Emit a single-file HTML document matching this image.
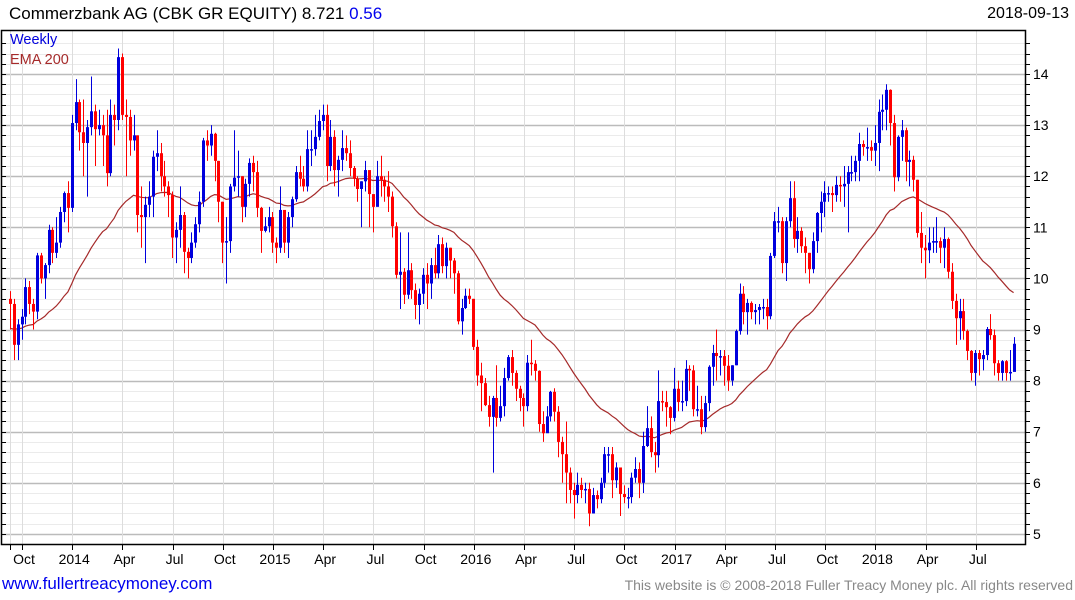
<!DOCTYPE html>
<html><head><meta charset="utf-8"><style>
html,body{margin:0;padding:0;background:#fff;}
body{width:1075px;height:600px;overflow:hidden;position:relative;font-family:"Liberation Sans","DejaVu Sans",sans-serif;}
.t{position:absolute;white-space:nowrap;}
</style></head><body>
<div class="t" style="left:9px;top:4px;font-size:17px;color:#000;">Commerzbank AG (CBK GR EQUITY) 8.721 <span style="color:#0000ee">0.56</span></div>
<div class="t" style="right:6px;top:5px;font-size:16px;color:#000;">2018-09-13</div>
<svg id="chart" width="1075" height="600" style="position:absolute;left:0;top:0" xmlns="http://www.w3.org/2000/svg"></svg>
<div class="t" style="left:10px;top:32px;font-size:14.5px;color:#0000dd;">Weekly</div>
<div class="t" style="left:10px;top:52px;font-size:14.5px;color:#a52a2a;">EMA 200</div>
<div class="t" style="left:2px;top:574px;font-size:17px;color:#0000ee;">www.fullertreacymoney.com</div>
<div class="t" style="right:2px;top:577px;font-size:14px;color:#888;">This website is © 2008-2018 Fuller Treacy Money plc. All rights reserved</div>
<script>
const closes=[9.5,8.7,9.1,9.25,9.83,9.5,9.35,10.45,10.0,10.26,10.95,10.5,10.7,11.3,11.67,11.38,13.04,13.45,12.86,12.65,12.96,13.27,12.92,13.0,12.8,12.06,13.2,13.1,14.33,13.2,13.16,12.7,12.8,11.24,11.2,11.44,11.6,12.38,12.45,12.0,11.8,11.63,10.8,
10.95,11.24,10.52,10.4,10.7,11.06,11.5,12.7,12.6,12.83,12.3,11.5,10.7,10.73,11.8,11.97,12.0,11.4,11.85,12.26,12.08,11.38,10.93,11.02,11.2,10.7,10.6,11.34,10.7,11.2,11.55,12.08,11.95,11.8,12.53,12.53,12.77,13.08,13.2,12.2,12.77,12.12,12.32,12.55,12.45,
12.16,11.95,11.75,11.9,12.12,11.65,11.4,12.0,11.93,11.8,11.6,11.02,10.07,10.13,9.68,10.16,9.77,9.48,9.7,10.07,9.9,10.26,10.1,10.67,10.24,10.6,10.35,10.1,9.16,9.42,9.66,9.6,8.66,8.1,7.95,7.52,7.29,7.66,7.27,7.5,8.05,8.46,8.15,7.84,
7.66,7.5,8.35,8.33,8.19,7.15,6.97,7.3,7.78,7.39,6.8,6.56,6.2,5.86,5.76,5.96,5.86,5.88,5.4,5.76,5.68,6.0,6.56,6.56,6.05,6.3,5.78,5.72,5.72,6.1,6.27,6.0,6.72,7.07,6.6,6.54,7.6,7.58,7.48,7.27,7.84,7.58,
7.6,8.23,8.2,7.44,7.44,7.09,7.56,8.27,8.54,8.48,8.48,8.29,8.0,8.3,8.97,9.7,9.34,9.52,9.34,9.38,9.44,9.44,9.26,10.44,11.12,11.12,10.3,11.12,11.57,10.77,10.93,10.63,10.5,10.18,10.73,11.28,11.5,11.67,11.67,11.63,11.83,
11.8,11.85,12.08,12.08,12.3,12.63,12.57,12.57,12.5,12.65,13.26,13.3,13.69,13.04,11.98,12.77,12.9,12.28,12.32,11.93,10.89,10.6,10.55,10.7,10.73,10.73,10.6,10.77,10.13,9.56,9.22,9.36,8.97,8.58,8.15,8.54,8.42,8.5,9.01,8.89,8.34,8.15,8.38,8.15,8.17,8.721];
const highs=[9.75,9.6,9.2,9.4,10.0,9.95,9.6,10.5,10.5,10.3,11.05,11.0,11.2,11.4,11.7,11.9,13.2,13.9,13.5,13.5,13.1,13.95,13.4,13.3,13.2,13.3,13.5,13.4,14.5,14.4,13.5,13.3,13.2,12.8,11.8,11.6,11.9,12.5,12.9,12.65,12.3,11.9,11.7,
11.1,11.8,11.3,10.6,10.9,11.2,11.7,12.75,12.9,13.0,12.85,12.3,11.5,11.2,11.85,12.9,12.5,12.0,11.95,12.35,12.4,12.3,11.4,11.2,11.4,11.3,10.8,11.8,11.3,11.3,11.6,12.2,12.4,12.2,12.9,12.9,13.2,13.3,13.4,13.4,13.1,12.9,12.4,12.9,12.8,
12.7,12.2,12.0,11.9,12.3,12.0,11.5,12.3,12.4,12.0,12.1,11.7,11.1,10.9,10.2,10.9,10.3,9.9,9.8,10.2,10.3,10.4,10.6,10.85,10.8,10.7,10.6,10.4,10.15,9.6,9.8,9.8,9.6,8.8,8.35,8.05,7.7,7.7,8.3,7.9,8.25,8.5,8.6,8.2,
7.9,7.75,8.5,8.8,8.4,8.2,7.4,7.5,7.8,7.85,7.5,6.9,7.2,6.3,6.0,6.2,6.1,6.0,6.0,5.9,5.85,6.1,6.7,6.7,6.7,6.4,6.2,5.95,5.9,6.2,6.5,6.4,7.0,7.5,7.3,6.8,8.2,7.8,7.8,7.5,8.25,8.0,
8.0,8.4,8.3,8.3,7.9,7.7,7.7,8.3,8.7,9.0,8.6,8.6,8.5,8.3,9.0,9.9,9.85,9.6,9.55,9.5,9.5,9.6,9.6,10.5,11.3,11.4,11.2,11.2,11.9,11.9,11.2,11.0,10.8,10.5,10.9,11.3,11.7,11.9,11.8,11.8,12.0,
12.0,12.2,12.2,12.4,12.4,12.85,12.7,12.95,12.7,13.0,13.5,13.6,13.8,13.7,13.2,12.8,13.1,12.95,12.5,12.4,11.93,11.3,10.85,11.0,11.0,11.2,10.8,11.0,10.8,10.3,9.7,9.6,9.6,9.0,8.6,8.6,8.6,8.6,9.05,9.3,9.0,8.4,8.4,8.4,8.6,8.85];
const lows=[9.0,8.4,8.4,8.8,9.1,9.3,9.0,9.2,9.9,9.6,10.1,10.3,10.4,10.6,11.1,10.9,11.3,12.9,12.5,12.0,11.6,12.8,12.2,12.8,12.2,11.8,12.0,12.6,12.9,13.1,12.0,12.4,12.5,10.9,10.6,10.3,11.2,11.2,12.1,11.7,11.6,11.2,10.4,
10.3,10.6,10.1,10.0,10.3,10.6,10.9,11.4,12.3,12.4,11.9,11.1,10.3,9.9,10.5,11.7,11.6,11.1,11.2,11.6,11.7,11.2,10.5,10.9,10.9,10.5,10.3,10.5,10.5,10.4,11.0,11.5,11.8,11.7,11.7,12.2,12.4,12.7,12.9,11.9,12.1,11.8,11.6,12.1,12.3,
12.0,11.8,11.5,11.0,11.7,11.0,10.9,11.5,11.6,11.5,11.3,10.8,10.0,9.4,9.5,9.6,9.6,9.2,9.1,9.5,9.4,9.6,10.0,10.0,10.1,10.0,10.0,9.7,9.1,8.9,9.4,9.5,8.6,7.9,7.4,7.5,7.1,6.2,7.1,7.2,7.3,8.0,7.9,7.6,
7.4,7.1,7.4,8.1,8.0,7.0,6.8,7.0,7.2,7.2,6.5,6.0,5.6,5.6,5.3,5.6,5.7,5.6,5.15,5.4,5.5,5.6,5.9,6.2,5.7,5.9,5.35,5.6,5.5,5.6,6.0,5.7,5.8,6.7,6.5,6.2,6.3,7.4,7.1,6.95,7.2,7.4,
7.4,7.5,7.8,7.3,7.3,6.95,7.0,7.4,7.9,8.0,8.1,7.9,7.8,7.9,8.3,8.9,9.1,8.9,9.2,9.1,9.1,9.2,9.0,9.2,10.4,10.9,10.1,9.95,11.0,10.6,10.5,10.5,10.1,9.9,10.1,10.5,10.9,11.2,11.5,11.3,11.5,
11.5,11.4,10.9,11.9,11.9,11.9,12.4,12.3,12.3,12.2,12.1,12.9,12.9,12.6,11.7,11.9,12.3,11.9,11.8,11.7,10.8,10.3,10.0,10.3,10.5,10.5,10.3,10.2,10.0,9.4,8.7,8.8,8.8,8.4,8.0,7.9,8.1,8.2,8.4,8.8,8.1,8.0,8.0,8.0,8.0,8.2];
const firstOpen=9.6;
const emaSeed=9.0;
const yTicks=[5,6,7,8,9,10,11,12,13,14];
const xLabels=["Oct","2014","Apr","Jul","Oct","2015","Apr","Jul","Oct","2016","Apr","Jul","Oct","2017","Apr","Jul","Oct","2018","Apr","Jul"];

const NS="http://www.w3.org/2000/svg";
const svg=document.getElementById('chart');
const L=1,R=1025,T=30,B=544;
function y(v){return 74+(14-v)*51.1;}
function x(i){return 10+i*3.86;}
function mk(tag,attrs){const e=document.createElementNS(NS,tag);for(const k in attrs)e.setAttribute(k,attrs[k]);svg.appendChild(e);return e;}

for(let k=0;k<=50;k++){
  const v=4.6+k*0.2; const yy=Math.round(y(v))+0.5;
  if(yy<=T||yy>=B)continue;
  const isMajor=Math.abs(v-Math.round(v))<1e-6;
  const g=mk('line',{x1:L,x2:R,y1:yy,y2:yy,stroke:isMajor?'#bbbbbb':'#ebebeb','stroke-width':isMajor?1.5:1});
  
  
  const t1=mk('line',{x1:L,x2:L+5,y1:yy,y2:yy,stroke:'#000'});
  
  
  const t2=mk('line',{x1:R,x2:R+5,y1:yy,y2:yy,stroke:'#000'});
  
  
}
const vx=[10];
for(let q=0;q<xLabels.length;q++)vx.push(22+q*50.2);
vx.forEach((xx,q)=>{
  const g=mk('line',{x1:Math.round(xx)+0.5,x2:Math.round(xx)+0.5,y1:T,y2:B,stroke:'#dddddd','stroke-width':1});
  
  
  const tk=mk('line',{x1:Math.round(xx)+0.5,x2:Math.round(xx)+0.5,y1:B,y2:B+6,stroke:'#000'});
  
  
});
xLabels.forEach((lab,q)=>{
  const t=mk('text',{x:24+q*50.2,y:564,'text-anchor':'middle','font-size':14,'font-family':'Liberation Sans, DejaVu Sans, sans-serif',fill:'#000'});
  t.textContent=lab;
  
  
});
yTicks.forEach(v=>{
  const t=mk('text',{x:1033,y:y(v)+5,'font-size':14,'font-family':'Liberation Sans, DejaVu Sans, sans-serif',fill:'#000'});
  t.textContent=String(v);
  
  
});
let ema=emaSeed;const alpha=2/41;let pts=[];
closes.forEach((c,i)=>{ema=ema+alpha*(c-ema);pts.push(x(i).toFixed(1)+','+y(ema).toFixed(1));});
const el=mk('polyline',{points:pts.join(' '),fill:'none',stroke:'#a52a2a','stroke-width':1.2});


closes.forEach((c,i)=>{
  const o=i===0?firstOpen:closes[i-1];
  const col=c>=o?'#0000dd':'#ff0000';
  const cx=Math.round(x(i));
  const w=mk('line',{x1:cx+0.5,x2:cx+0.5,y1:y(highs[i]),y2:y(lows[i]),stroke:col,'stroke-width':1});
  
  
  const top=y(Math.max(o,c)),bot=y(Math.min(o,c));
  const r=mk('rect',{x:cx-1,y:top,width:3,height:Math.max(1.5,bot-top),fill:col});
  
  
});
const f=mk('rect',{x:L+0.5,y:T+0.5,width:R-L,height:B-T,fill:'none',stroke:'#000','stroke-width':1.5});


</script>
</body></html>
